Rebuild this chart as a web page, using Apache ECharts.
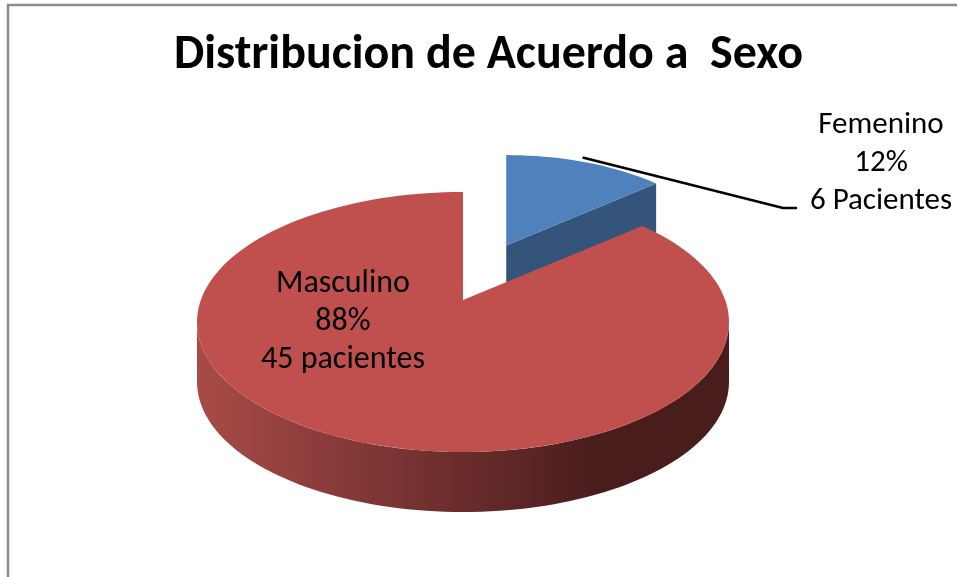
<!DOCTYPE html>
<html>
<head>
<meta charset="utf-8">
<script src="https://cdn.jsdelivr.net/npm/echarts@6/dist/echarts.min.js"></script>
<style>
  html, body { margin: 0; padding: 0; background: #fff; }
  #main { width: 957px; height: 577px; }
</style>
</head>
<body>
<div id="main"></div>
<script>
// datos del grafico
const categorias = ['Femenino', 'Masculino'];
const pacientes = [6, 45];
const palabraPacientes = ['Pacientes', 'pacientes'];

// colores y geometria del pastel 3D
const colorTapa = ['#4F81BD', '#C0504D'];
const colorCorte = ['#34547C', '#8E3B39'];
const colorLado = [['#3E6596', '#24395A'], ['#A84B48', '#4A1D1D']];
const separacion = [0.45, 0];
const CX = 463, CY = 322, RX = 266, RY = 130, LIFT = 22, DEPTH = 60;
const FONT = 'Carlito, Lato, "Open Sans", sans-serif';

const total = pacientes.reduce((a, b) => a + b, 0);
const C0 = [CX, CY - LIFT];

function rimPoint(deg) {
  const t = deg * Math.PI / 180;
  return [CX + RX * Math.sin(t), CY - RY * Math.cos(t)];
}
function place(p, o, s) {
  return [C0[0] + o[0] + s * (p[0] - C0[0]), C0[1] + o[1] + s * (p[1] - C0[1])];
}
function arc(a, b, o, s) {
  const pts = [];
  const n = Math.max(2, Math.ceil((b - a) / 2));
  for (let k = 0; k <= n; k++) pts.push(place(rimPoint(a + (b - a) * k / n), o, s));
  return pts;
}
function down(pts, d) {
  return pts.map(p => [p[0], p[1] + d]);
}

function renderSlice(params, api) {
  const i = params.dataIndex;
  let start = 0;
  for (let k = 0; k < i; k++) start += pacientes[k] / total * 360;
  const end = start + api.value(0) / total * 360;
  const mid = (start + end) / 2;
  const m = rimPoint(mid);
  const o = [separacion[i] * (m[0] - CX), separacion[i] * (m[1] - CY)];
  const s = 1 + o[1] * 0.003;
  const d = DEPTH * s;
  const apex = place(C0, o, s);
  const children = [];

  // lado exterior visible (mitad frontal)
  const a = Math.max(start, 90), b = Math.min(end, 270);
  if (a < b) {
    const top = arc(a, b, o, s);
    children.push({
      type: 'polygon',
      shape: { points: top.concat(down(top, d).reverse()) },
      style: {
        fill: new echarts.graphic.LinearGradient(0, 0, 1, 0, [
          { offset: 0, color: colorLado[i][0] },
          { offset: 0.75, color: colorLado[i][1] },
          { offset: 1, color: colorLado[i][1] }
        ])
      }
    });
  }
  // caras de corte
  [[end, Math.sin(end * Math.PI / 180) > 0.01], [start, Math.sin(start * Math.PI / 180) < -0.01]].forEach(([ang, vis]) => {
    if (!vis) return;
    const r = place(rimPoint(ang), o, s);
    children.push({
      type: 'polygon',
      shape: { points: [apex, r, [r[0], r[1] + d], [apex[0], apex[1] + d]] },
      style: { fill: colorCorte[i] }
    });
  });
  // tapa superior
  children.push({
    type: 'polygon',
    shape: { points: [apex].concat(arc(start, end, o, s)) },
    style: { fill: colorTapa[i] }
  });

  const pct = Math.round(api.value(0) / total * 100) + '%';
  const texto = categorias[i] + '\n' + pct + '\n' + api.value(0) + ' ' + palabraPacientes[i];
  if (i === 0) {
    const p = place(rimPoint(mid), o, s);
    children.push({
      type: 'polyline',
      shape: { points: [[p[0] - 4, p[1] - 5], [783, 208], [797, 208]] },
      style: { stroke: '#000', lineWidth: 2.5, fill: null }
    });
    children.push({
      type: 'text',
      style: { text: texto, x: 881, y: 163, align: 'center', verticalAlign: 'middle',
        fontSize: 31, lineHeight: 38, fontFamily: FONT, fill: '#000' }
    });
  } else {
    children.push({
      type: 'text',
      style: { text: texto, x: 343, y: 322, align: 'center', verticalAlign: 'middle',
        fontSize: 32, lineHeight: 38, fontFamily: FONT, fill: '#000' }
    });
  }
  return { type: 'group', children: children };
}

const chart = echarts.init(document.getElementById('main'), null, { renderer: 'canvas' });
chart.setOption({
  animation: false,
  backgroundColor: '#fff',
  title: {
    text: 'Distribucion de Acuerdo a  Sexo',
    left: 174,
    top: 32,
    padding: 0,
    textStyle: { fontSize: 48, fontWeight: 'bold', fontFamily: FONT, color: '#000' }
  },
  graphic: [{
    type: 'rect',
    shape: { x: 8, y: 5, width: 1200, height: 1200 },
    style: { fill: null, stroke: '#8C8C8C', lineWidth: 2.5 },
    silent: true
  }],
  series: [{
    type: 'custom',
    coordinateSystem: 'none',
    silent: true,
    renderItem: renderSlice,
    data: pacientes.map((v, i) => ({ name: categorias[i], value: [v] }))
  }]
});
</script>
</body>
</html>
